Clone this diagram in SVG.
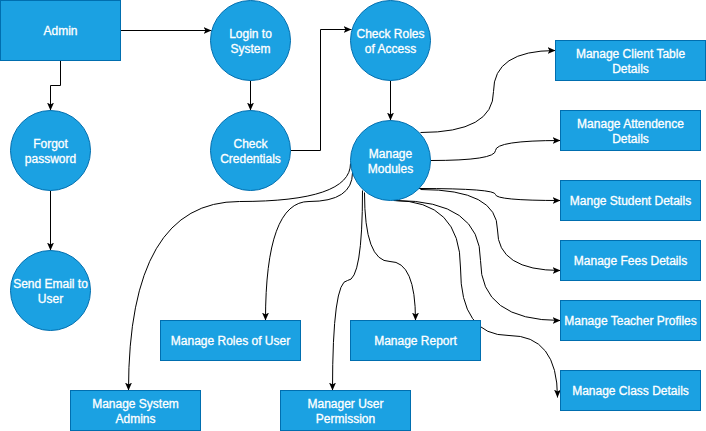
<svg xmlns="http://www.w3.org/2000/svg" width="706" height="431" viewBox="0 0 706 431">
<style>
.n{fill:#1ba1e2;stroke:#006eaf;stroke-width:1}
.t{fill:#ffffff;font-family:"Liberation Sans",Arial,Helvetica,sans-serif;font-size:12px;text-anchor:middle;stroke:#ffffff;stroke-width:0.3}
.e{fill:none;stroke:#000000;stroke-width:1;marker-end:url(#arr)}
</style>
<defs>
<marker id="arr" viewBox="0 0 8 10" refX="8" refY="5" markerWidth="8" markerHeight="10" markerUnits="userSpaceOnUse" orient="auto">
<path d="M0,1.5 L8,5 L0,8.5 L2,5 z" fill="#000000"/>
</marker>
</defs>
<rect width="706" height="431" fill="#ffffff"/>
<g transform="translate(0.5,0.5)">
<g id="connectors">
<path class="e" d="M60,60 L60,85 L50,85 L50,110"/>
<path class="e" d="M50,190 L50,250"/>
<path class="e" d="M120,30 L211,30"/>
<path class="e" d="M250,80 L250,110"/>
<path class="e" d="M290,150 L320,150 L320,29 L351,29"/>
<path class="e" d="M390,80 L390,120"/>
<path class="e" d="M420,132 Q493,132 493,91 Q493,50 555,50"/>
<path class="e" d="M430,160 Q495,160 495,150 Q495,140 560,140"/>
<path class="e" d="M418,188 Q495,188 495,194 Q495,200 560,200"/>
<path class="e" d="M420,189 Q497,189 497,229.5 Q497,270 560,270"/>
<path class="e" d="M395,200 Q480,200 480,260 Q480,320 560,320"/>
<path class="e" d="M393,200 Q460,200 460,267.5 Q460,335 508.5,335 Q557,335 557,397"/>
<path class="e" d="M364,192 Q364,261 389.5,261 Q415,261 415,320"/>
<path class="e" d="M362,190 Q362,280 347,280 Q332,280 332,390"/>
<path class="e" d="M352,172 Q352,201 308.5,201 Q265,201 265,320"/>
<path class="e" d="M350,163 Q350,201 239,201 Q128,201 128,390"/>
</g>
<g id="admin"><rect class="n" x="0" y="0" width="120" height="60"/><text class="t" x="60" y="34.5">Admin</text></g>
<g id="login"><circle class="n" cx="250" cy="40" r="40"/><text class="t" x="250" y="37.6">Login to</text><text class="t" x="250" y="52.6">System</text></g>
<g id="credentials"><circle class="n" cx="250" cy="150" r="40"/><text class="t" x="250" y="147.6">Check</text><text class="t" x="250" y="162.6">Credentials</text></g>
<g id="roles"><circle class="n" cx="390" cy="40" r="40"/><text class="t" x="390" y="37.6">Check Roles</text><text class="t" x="390" y="52.6">of Access</text></g>
<g id="modules"><circle class="n" cx="390" cy="160" r="40"/><text class="t" x="390" y="157.6">Manage</text><text class="t" x="390" y="172.6">Modules</text></g>
<g id="forgot"><circle class="n" cx="50" cy="150" r="40"/><text class="t" x="50" y="147.6">Forgot</text><text class="t" x="50" y="162.6">password</text></g>
<g id="email"><circle class="n" cx="50" cy="290" r="40"/><text class="t" x="50" y="287.6">Send Email to</text><text class="t" x="50" y="302.6">User</text></g>
<g id="client"><rect class="n" x="555" y="40" width="150" height="40"/><text class="t" x="630" y="57.6">Manage Client Table</text><text class="t" x="630" y="72.6">Details</text></g>
<g id="attendence"><rect class="n" x="560" y="110" width="140" height="40"/><text class="t" x="630" y="127.6">Manage Attendence</text><text class="t" x="630" y="142.6">Details</text></g>
<g id="student"><rect class="n" x="560" y="180" width="140" height="40"/><text class="t" x="630" y="204.3">Mange Student Details</text></g>
<g id="fees"><rect class="n" x="560" y="240" width="140" height="40"/><text class="t" x="630" y="264.3">Manage Fees Details</text></g>
<g id="teacher"><rect class="n" x="560" y="300" width="140" height="40"/><text class="t" x="630" y="324.3">Manage Teacher Profiles</text></g>
<g id="class"><rect class="n" x="560" y="370" width="140" height="40"/><text class="t" x="630" y="394.3">Manage Class Details</text></g>
<g id="rolesofuser"><rect class="n" x="160" y="320" width="140" height="40"/><text class="t" x="230" y="344.3">Manage Roles of User</text></g>
<g id="report"><rect class="n" x="350" y="320" width="130" height="40"/><text class="t" x="415" y="344.3">Manage Report</text></g>
<g id="sysadmins"><rect class="n" x="70" y="390" width="130" height="40"/><text class="t" x="135" y="407.6">Manage System</text><text class="t" x="135" y="422.6">Admins</text></g>
<g id="permission"><rect class="n" x="280" y="390" width="130" height="40"/><text class="t" x="345" y="407.6">Manager User</text><text class="t" x="345" y="422.6">Permission</text></g>
</g>
</svg>
